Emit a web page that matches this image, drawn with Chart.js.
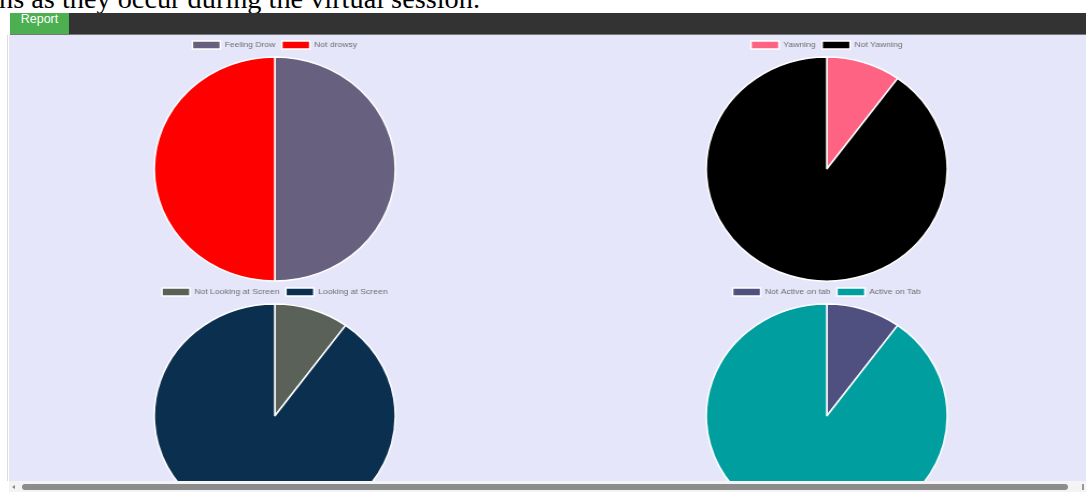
<!DOCTYPE html>
<html>
<head>
<meta charset="utf-8">
<script src="https://cdn.jsdelivr.net/npm/chart.js@4.4.0/dist/chart.umd.min.js"></script>
<style>
    body { margin: 0; width: 1086px; height: 492px; overflow: hidden; background: #fff; position: relative; font-family: "Liberation Sans", Arial, sans-serif; }
    .intro { position: absolute; left: -1px; top: -15px; font: 28.3px/28px "Liberation Serif", "Times New Roman", serif; color: #000; white-space: nowrap; }
    .topbar { position: absolute; left: 10px; top: 13px; width: 1076px; height: 21px; background: #333; border-bottom: 1px solid #777; }
    .report { position: absolute; left: 0; top: 0; width: 59px; height: 21px; background: #4caf50; color: #fff; font-size: 12.5px; line-height: 12px; text-align: center; }
    .edge { position: absolute; left: 7px; top: 35px; width: 1px; height: 446px; background: #dcdcdc; }
    .panel { position: absolute; left: 9px; top: 35px; width: 1077px; height: 446px; background: #e6e6fa; overflow: hidden; }
    .cell { position: absolute; width: 494px; height: 247px; transform: scaleX(1.076); transform-origin: left top; }
    .scroll { position: absolute; left: 9px; top: 481px; width: 1077px; height: 11px; background: #f4f4f4; }
    .thumb { position: absolute; left: 13px; top: 3px; width: 1046px; height: 6px; border-radius: 3px; background: #8c8c8c; }
    .arrow { position: absolute; left: 3px; top: 4px; width: 0; height: 0; border-top: 2px solid transparent; border-bottom: 2px solid transparent; border-right: 3px solid #888; }
    .rmark { position: absolute; left: 1073px; top: 3px; width: 2px; height: 6px; background: #999; }
</style>
</head>
<body>
<div class="intro">ns as they occur during the virtual session.</div>
<div class="topbar"><div class="report">Report</div></div>
<div class="edge"></div>
<div class="panel">
    <div class="cell" style="left:0;top:0"><canvas id="drowsyChart"></canvas></div>
    <div class="cell" style="left:552px;top:0"><canvas id="yawnChart"></canvas></div>
    <div class="cell" style="left:0;top:247px"><canvas id="screenChart"></canvas></div>
    <div class="cell" style="left:552px;top:247px"><canvas id="tabChart"></canvas></div>
</div>
<div class="scroll"><div class="arrow"></div><div class="thumb"></div><div class="rmark"></div></div>

<script>
// chart data
const drowsyLabels = ['Feeling Drow', 'Not drowsy'];
const drowsyValues = [50, 50];
const yawnLabels = ['Yawning', 'Not Yawning'];
const yawnValues = [10, 90];
const screenLabels = ['Not Looking at Screen', 'Looking at Screen'];
const screenValues = [10, 90];
const tabLabels = ['Not Active on tab', 'Active on Tab'];
const tabValues = [10, 90];

function makePie(id, labels, values, colors) {
    return new Chart(document.getElementById(id), {
        type: 'pie',
        data: {
            labels: labels,
            datasets: [{
                data: values,
                backgroundColor: colors,
                borderColor: '#ffffff',
                borderWidth: 1.5,
                hoverOffset: 0,
                clip: false
            }]
        },
        options: {
            responsive: true,
            maintainAspectRatio: false,
            animation: false,
            radius: 112,
            layout: { padding: { top: 0, bottom: 3 } },
            plugins: {
                legend: {
                    position: 'top',
                    labels: {
                        boxWidth: 26,
                        boxHeight: 8,
                        padding: 6,
                        color: '#6e6e6e',
                        font: { size: 8, family: '"Liberation Sans", Arial, sans-serif' }
                    }
                },
                tooltip: { enabled: false }
            }
        }
    });
}

makePie('drowsyChart', drowsyLabels, drowsyValues, ['#67617f', '#ff0000']);
makePie('yawnChart', yawnLabels, yawnValues, ['#ff6384', '#000000']);
makePie('screenChart', screenLabels, screenValues, ['#596158', '#0b2f4e']);
makePie('tabChart', tabLabels, tabValues, ['#4f4f80', '#009e9e']);
</script>
</body>
</html>
